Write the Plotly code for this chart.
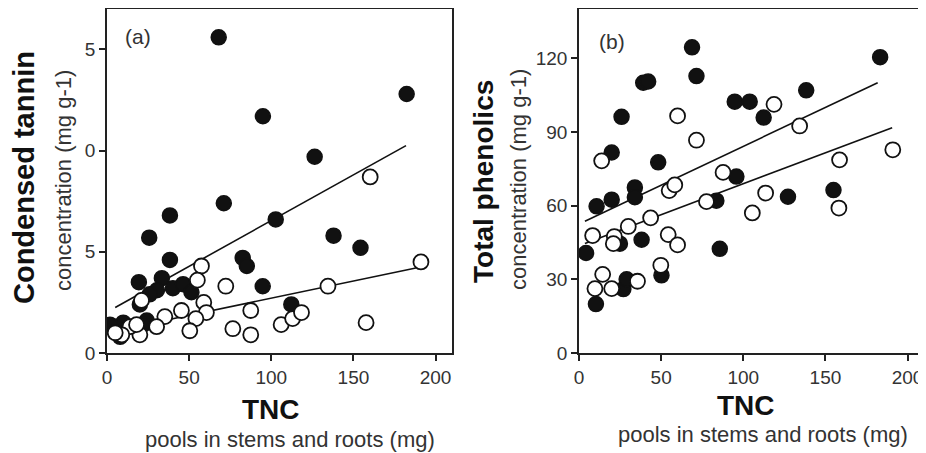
import plotly.graph_objects as go

# page body has an 8px default margin; figure is sized/positioned to compensate
OFF = 8
W, H = 918, 445

# ---- Panel (a): condensed tannin ----
a_filled_x = [68.0, 94.9, 182.4, 126.4, 71.1, 38.3, 25.7, 102.7, 137.9, 154.3, 38.3, 82.6, 85.1, 94.8,
              19.4, 33.4, 30.4, 40.1, 46.3, 51.4, 112.2, 20.0, 24.2, 4.9, 9.9, 1.8, 26.0, 22.0, 8.0]
a_filled_y = [15.6, 11.7, 12.8, 9.7, 7.4, 6.8, 5.7, 6.6, 5.8, 5.2, 4.6, 4.7, 4.3, 3.3,
              3.5, 3.7, 3.1, 3.2, 3.4, 3.0, 2.4, 2.4, 1.6, 1.3, 1.5, 1.4, 2.9, 1.4, 0.8]
a_open_x = [160.2, 191.1, 134.5, 157.7, 57.5, 55.0, 72.3, 58.9, 60.5, 45.3, 35.2, 54.1, 50.4, 30.2,
            21.0, 20.0, 14.0, 9.0, 5.0, 76.6, 87.5, 87.5, 106.0, 113.0, 118.4, 18.0]
a_open_y = [8.7, 4.5, 3.3, 1.5, 4.3, 3.6, 3.3, 2.5, 2.0, 2.1, 1.8, 1.7, 1.1, 1.3,
            2.6, 0.9, 1.3, 0.9, 1.0, 1.2, 0.9, 2.1, 1.4, 1.7, 2.0, 1.4]
a_fit_filled_x = [5, 182]
a_fit_filled_y = [2.25, 10.25]
a_fit_open_x = [5, 188]
a_fit_open_y = [1.1, 4.2]

# ---- Panel (b): total phenolics ----
b_filled_x = [68.8, 71.5, 183.3, 39.1, 42.1, 25.9, 94.8, 103.9, 112.4, 138.3, 19.9, 48.2, 95.8,
              34.0, 34.0, 19.9, 10.7, 83.6, 127.2, 154.9, 38.1, 4.3, 85.7, 24.9, 27.0, 29.0, 50.2, 10.3]
b_filled_y = [124.4, 112.7, 120.4, 110.0, 110.5, 96.1, 102.3, 102.3, 95.8, 106.9, 81.6, 77.6, 71.8,
              67.4, 63.4, 62.4, 59.7, 62.0, 63.6, 66.3, 46.1, 40.7, 42.4, 44.5, 26.0, 30.0, 31.6, 19.9]
b_open_x = [60.0, 71.5, 118.7, 134.3, 191.0, 158.6, 158.2, 113.6, 105.5, 87.7, 77.6, 54.9, 58.3,
            13.8, 43.6, 30.0, 8.3, 21.5, 20.9, 54.3, 60.0, 49.8, 14.4, 9.7, 19.9, 35.6]
b_open_y = [96.5, 86.6, 101.2, 92.4, 82.7, 78.6, 59.0, 65.1, 57.0, 73.5, 61.6, 66.1, 68.4,
            78.2, 55.0, 51.5, 47.8, 47.4, 44.5, 48.2, 44.0, 35.7, 32.0, 26.2, 26.2, 29.2]
b_fit_filled_x = [3.6, 181.8]
b_fit_filled_y = [53.6, 110.0]
b_fit_open_x = [3.6, 190.6]
b_fit_open_y = [44.6, 91.7]

x_ticks = [0, 50, 100, 150, 200]
a_y_ticks = [0, 5, 10, 15]
a_y_ticktext = ["0", "5", "0", "5"]
b_y_ticks = [0, 30, 60, 90, 120]

FONT = "Liberation Sans, Arial, sans-serif"
MS = 15

fig = go.Figure()

def add_panel(xa, ya, fx, fy, ox, oy, lfx, lfy, lox, loy):
    fig.add_trace(go.Scatter(x=lfx, y=lfy, mode="lines", xaxis=xa, yaxis=ya,
                             line=dict(color="#111", width=1.6), showlegend=False, hoverinfo="skip"))
    fig.add_trace(go.Scatter(x=lox, y=loy, mode="lines", xaxis=xa, yaxis=ya,
                             line=dict(color="#111", width=1.6), showlegend=False, hoverinfo="skip"))
    fig.add_trace(go.Scatter(x=fx, y=fy, mode="markers", xaxis=xa, yaxis=ya,
                             marker=dict(size=MS, color="#111", line=dict(color="#111", width=1.5)),
                             showlegend=False))
    fig.add_trace(go.Scatter(x=ox, y=oy, mode="markers", xaxis=xa, yaxis=ya,
                             marker=dict(size=MS, color="white", line=dict(color="#111", width=1.8)),
                             showlegend=False))

add_panel("x", "y", a_filled_x, a_filled_y, a_open_x, a_open_y,
          a_fit_filled_x, a_fit_filled_y, a_fit_open_x, a_fit_open_y)
add_panel("x2", "y2", b_filled_x, b_filled_y, b_open_x, b_open_y,
          b_fit_filled_x, b_fit_filled_y, b_fit_open_x, b_fit_open_y)

axis_common = dict(showline=True, mirror=True, linecolor="#222", linewidth=1.5,
                   ticks="outside", ticklen=6, tickwidth=1.5, tickcolor="#222",
                   showgrid=False, zeroline=False, automargin=False,
                   tickfont=dict(family=FONT, size=19, color="#333"))

def px(x):
    return min(1.0, max(0.0, (x - OFF) / W))

def py(y):
    return min(1.0, max(0.0, 1 - (y - OFF) / H))

ydom = [py(353), py(9)]
fig.update_layout(
    template="none",
    width=W, height=H,
    margin=dict(l=0, r=0, t=0, b=0, pad=0),
    paper_bgcolor="white", plot_bgcolor="white",
    xaxis=dict(domain=[px(107), px(452)], range=[0, 210], tickvals=x_ticks, anchor="y", **axis_common),
    yaxis=dict(domain=ydom, range=[0, 17], tickvals=a_y_ticks, ticktext=a_y_ticktext, anchor="x", **axis_common),
    xaxis2=dict(domain=[px(579), px(924)], range=[0, 210], tickvals=x_ticks, anchor="y2", **axis_common),
    yaxis2=dict(domain=ydom, range=[0, 140], tickvals=b_y_ticks, anchor="x2", **axis_common),
)

def ann(text, x, y, size, bold=False, color="#111", angle=0):
    fig.add_annotation(text=("<b>%s</b>" % text) if bold else text,
                       x=px(x), y=py(y), xref="paper", yref="paper",
                       showarrow=False, textangle=angle, xanchor="center", yanchor="middle",
                       font=dict(family=FONT, size=size, color=color))

# panel labels
ann("(a)", 138, 37, 21, color="#333")
ann("(b)", 612, 42, 21, color="#333")
# y titles
ann("Condensed tannin", 24, 178, 29, bold=True, angle=-90)
ann("concentration (mg g-1)", 63, 181, 22, color="#333", angle=-90)
ann("Total phenolics", 483, 182, 28, bold=True, angle=-90)
ann("concentration (mg g-1)", 518, 180, 22, color="#333", angle=-90)
# x titles
ann("TNC", 271, 409, 28, bold=True)
ann("pools in stems and roots (mg)", 290, 439, 22, color="#333")
ann("TNC", 746, 405, 28, bold=True)
ann("pools in stems and roots (mg)", 763, 434, 22, color="#333")

fig.write_html("out.html")
